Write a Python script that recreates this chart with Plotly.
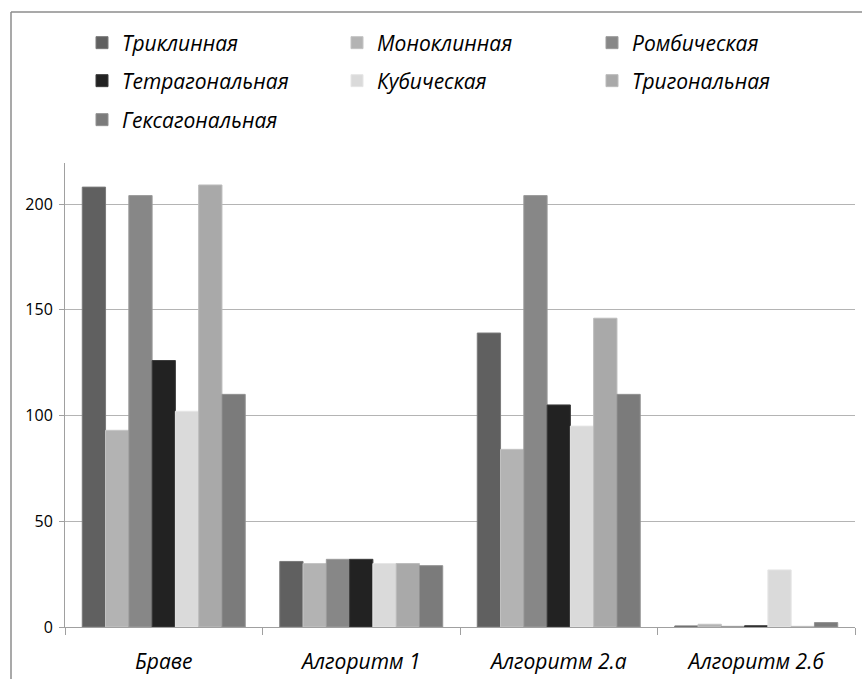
import plotly.graph_objects as go

# Categories (methods) and crystal systems
categories = ["Браве", "Алгоритм 1", "Алгоритм 2.а", "Алгоритм 2.б"]
systems = ["Триклинная", "Моноклинная", "Ромбическая",
           "Тетрагональная", "Кубическая", "Тригональная", "Гексагональная"]

# Counts per crystal system for each method
triclinic = [208, 31, 139, 0.5]
monoclinic = [93, 30, 84, 1.3]
orthorhombic = [204, 32, 204, 0.3]
tetragonal = [126, 32, 105, 0.6]
cubic = [102, 30, 95, 27]
trigonal = [209, 30, 146, 0.3]
hexagonal = [110, 29, 110, 2.1]

series_values = [triclinic, monoclinic, orthorhombic, tetragonal,
                 cubic, trigonal, hexagonal]
fill_colors = ["#606060", "#b3b3b3", "#878787", "#222222",
               "#dadada", "#a9a9a9", "#7b7b7b"]
edge_colors = ["#7a7a7a", "#c4c4c4", "#9c9c9c", "#3c3c3c",
               "#e6e6e6", "#bcbcbc", "#929292"]
legend_ids = ["legend", "legend", "legend",
              "legend2", "legend2", "legend2", "legend3"]

W, H = 862, 679
L, R, T, B = 65, 7, 163, 52
plot_w = W - L - R
plot_h = H - T - B


def px_x(p):
    return (p - L) / plot_w


def px_y(p):
    return (H - B - p) / plot_h


fig = go.Figure()
for name, vals, fc, ec, lg in zip(systems, series_values, fill_colors,
                                  edge_colors, legend_ids):
    fig.add_trace(go.Bar(
        name=name, x=categories, y=vals,
        marker=dict(color=fc, line=dict(color=ec, width=1)),
        legend=lg,
    ))

legend_font = dict(family="Open Sans", size=21, color="#000000", style="italic")
legend_common = dict(orientation="h", xanchor="left", yanchor="middle",
                     x=px_x(82), entrywidth=210, entrywidthmode="pixels",
                     font=legend_font, bgcolor="rgba(0,0,0,0)",
                     traceorder="normal")

fig.update_layout(
    width=W, height=H,
    margin=dict(l=L, r=R, t=T, b=B, autoexpand=False),
    paper_bgcolor="white", plot_bgcolor="white",
    barmode="group", bargap=0.175, bargroupgap=0,
    showlegend=True,
    legend=dict(y=px_y(43), **legend_common),
    legend2=dict(y=px_y(81), **legend_common),
    legend3=dict(y=px_y(120), **legend_common),
    xaxis=dict(
        type="category", tickson="boundaries", ticks="outside", ticklen=7,
        tickcolor="#a0a0a0", showline=True, linecolor="#a0a0a0", linewidth=1,
        showgrid=False, ticklabelstandoff=16,
        tickfont=dict(family="Open Sans", size=21, color="#000000",
                      style="italic"),
    ),
    yaxis=dict(
        range=[0, 219.4], tickvals=[0, 50, 100, 150, 200],
        ticks="outside", ticklen=5, tickcolor="#a0a0a0",
        showline=True, linecolor="#a0a0a0", linewidth=1,
        showgrid=True, gridcolor="#b4b4b4", gridwidth=1,
        zeroline=False, ticklabelstandoff=3,
        tickfont=dict(family="Open Sans", size=16, color="#000000"),
    ),
    shapes=[
        dict(type="line", xref="paper", yref="paper",
             x0=px_x(11), x1=px_x(11), y0=px_y(12), y1=px_y(700),
             line=dict(color="#8c8c8c", width=1.5)),
        dict(type="line", xref="paper", yref="paper",
             x0=px_x(11), x1=px_x(870), y0=px_y(12), y1=px_y(12),
             line=dict(color="#8c8c8c", width=1.5)),
    ],
)

fig.write_html("out.html")
